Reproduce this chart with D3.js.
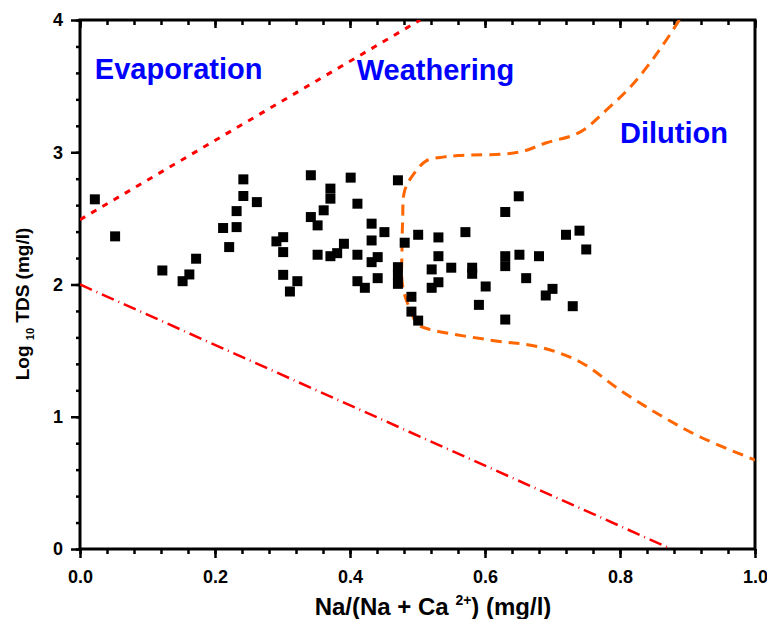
<!DOCTYPE html>
<html>
<head>
<meta charset="utf-8">
<script src="https://cdn.jsdelivr.net/npm/d3@7"></script>
<style>
  body { margin: 0; background: #fff; }
  svg { display: block; font-family: "Liberation Sans", Arial, sans-serif; font-weight: bold; }
</style>
</head>
<body>
<div id="chart"></div>
<script>
// Gibbs plot - Na/(Na+Ca) vs log10 TDS

const sampleX = [
  0.022, 0.052, 0.122, 0.152, 0.162, 0.172, 0.212, 0.221, 0.232, 0.232,
  0.242, 0.242, 0.262, 0.291, 0.301, 0.301, 0.301, 0.322, 0.311, 0.342,
  0.342, 0.352, 0.352, 0.361, 0.371, 0.371, 0.371, 0.381, 0.391, 0.401,
  0.411, 0.411, 0.411, 0.422, 0.432, 0.432, 0.432, 0.441, 0.441, 0.451,
  0.471, 0.471, 0.471, 0.471, 0.481, 0.491, 0.491, 0.501, 0.501, 0.531,
  0.531, 0.521, 0.550, 0.531, 0.521, 0.571, 0.581, 0.581, 0.601, 0.591,
  0.630, 0.630, 0.630, 0.630, 0.650, 0.651, 0.661, 0.680, 0.700, 0.690,
  0.730, 0.720, 0.740, 0.750
];
const sampleTDS = [
  2.644, 2.364, 2.106, 2.025, 2.076, 2.195, 2.427, 2.283, 2.434, 2.555,
  2.795, 2.669, 2.623, 2.326, 2.358, 2.245, 2.073, 2.025, 1.947, 2.826,
  2.510, 2.447, 2.225, 2.561, 2.725, 2.649, 2.214, 2.237, 2.308, 2.808,
  2.611, 2.225, 2.025, 1.975, 2.460, 2.333, 2.169, 2.207, 2.048, 2.396,
  2.788, 2.131, 2.068, 2.005, 2.316, 1.907, 1.795, 1.727, 2.376, 2.356,
  2.214, 2.114, 2.127, 2.017, 1.975, 2.396, 2.127, 2.081, 1.985, 1.846,
  2.548, 2.214, 2.139, 1.735, 2.667, 2.225, 2.048, 2.214, 1.967, 1.917,
  1.836, 2.376, 2.407, 2.265
];

// boundary lines [x, y]
const evapLine = [[0, 2.49], [0.504, 4]];
const lowerLine = [[0, 2], [0.876, 0]];
const dilutionCurve = [
  [0.888, 4.0], [0.858, 3.77], [0.82, 3.52], [0.78, 3.32], [0.74, 3.15],
  [0.69, 3.07], [0.65, 3.0], [0.56, 2.975], [0.54, 2.965], [0.513, 2.935],
  [0.495, 2.84], [0.481, 2.71], [0.478, 2.48], [0.477, 2.25], [0.477, 2.03],
  [0.481, 1.92], [0.49, 1.80], [0.5, 1.70], [0.515, 1.665], [0.607, 1.58],
  [0.681, 1.527], [0.741, 1.414], [0.8, 1.202], [0.859, 1.013], [0.919, 0.847],
  [1.0, 0.673]
];

const regionNames = ["Evaporation", "Weathering", "Dilution"];
const regionX = [0.022, 0.41, 0.80];
const regionY = [3.554, 3.546, 3.07];

const xMajor = [0, 0.2, 0.4, 0.6, 0.8, 1.0];
const xMinor = d3.range(0, 1.0001, 0.04);
const yMajor = [0, 1, 2, 3, 4];
const yMinor = d3.range(0, 4.0001, 0.2);

const width = 767;
const height = 619;
const margin = { top: 20, left: 80, bottom: 70, right: 12 };

const svg = d3.select("#chart").append("svg")
  .attr("width", width)
  .attr("height", height);

svg.append("rect").attr("width", width).attr("height", height).attr("fill", "#fff");

const x = d3.scaleLinear().domain([0, 1]).range([margin.left, width - margin.right]);
const y = d3.scaleLinear().domain([0, 4]).range([height - margin.bottom, margin.top]);

svg.append("clipPath").attr("id", "plotclip")
  .append("rect")
  .attr("x", x(0)).attr("y", y(4))
  .attr("width", x(1) - x(0)).attr("height", y(0) - y(4));

// axes
function styleAxis(g, fontSize) {
  g.select(".domain").remove();
  g.selectAll(".tick line").attr("stroke", "#000").attr("stroke-width", 2.5);
  g.selectAll(".tick text")
    .attr("fill", "#000")
    .style("font-size", fontSize + "px")
    .style("font-weight", "bold")
    .style("font-family", "'Liberation Sans', Arial, sans-serif");
}

svg.append("g").attr("transform", `translate(0,${y(0)})`)
  .call(d3.axisBottom(x).tickValues(xMinor).tickSize(5).tickFormat(""))
  .call(g => styleAxis(g, 0));
svg.append("g").attr("transform", `translate(0,${y(0)})`)
  .call(d3.axisBottom(x).tickValues(xMajor).tickSize(9).tickPadding(12).tickFormat(d3.format(".1f")))
  .call(g => styleAxis(g, 18));

svg.append("g").attr("transform", `translate(0,${y(4)})`)
  .call(d3.axisTop(x).tickValues(xMinor).tickSize(-5).tickFormat(""))
  .call(g => styleAxis(g, 0));
svg.append("g").attr("transform", `translate(0,${y(4)})`)
  .call(d3.axisTop(x).tickValues(xMajor).tickSize(-8).tickFormat(""))
  .call(g => styleAxis(g, 0));

svg.append("g").attr("transform", `translate(${x(0)},0)`)
  .call(d3.axisLeft(y).tickValues(yMinor).tickSize(4).tickFormat(""))
  .call(g => styleAxis(g, 0));
svg.append("g").attr("transform", `translate(${x(0)},0)`)
  .call(d3.axisLeft(y).tickValues(yMajor).tickSize(9).tickPadding(8).tickFormat(d3.format("d")))
  .call(g => styleAxis(g, 18));

// frame
svg.append("rect")
  .attr("x", x(0)).attr("y", y(4))
  .attr("width", x(1) - x(0)).attr("height", y(0) - y(4))
  .attr("fill", "none").attr("stroke", "#000").attr("stroke-width", 3);

const plot = svg.append("g").attr("clip-path", "url(#plotclip)");

const line = d3.line().x(d => x(d[0])).y(d => y(d[1]));

plot.append("path").datum(evapLine)
  .attr("d", line)
  .attr("fill", "none").attr("stroke", "#ff0000")
  .attr("stroke-width", 3).attr("stroke-dasharray", "6,7");

plot.append("path").datum(lowerLine)
  .attr("d", line)
  .attr("fill", "none").attr("stroke", "#ff0000")
  .attr("stroke-width", 2.5).attr("stroke-dasharray", "13,5,1,5");

plot.append("path").datum(dilutionCurve)
  .attr("d", line.curve(d3.curveCatmullRom.alpha(0.5)))
  .attr("fill", "none").attr("stroke", "#ff6600")
  .attr("stroke-width", 3).attr("stroke-dasharray", "11,7");

// samples
const sq = d3.symbol().type(d3.symbolSquare).size(100);
plot.selectAll("path.pt")
  .data(sampleX.map((v, i) => [v, sampleTDS[i]]))
  .join("path")
  .attr("class", "pt")
  .attr("d", sq)
  .attr("transform", d => `translate(${x(d[0])},${y(d[1])})`)
  .attr("fill", "#000");

// region labels
svg.selectAll("text.region")
  .data(regionNames)
  .join("text")
  .attr("class", "region")
  .attr("x", (d, i) => x(regionX[i]))
  .attr("y", (d, i) => y(regionY[i]))
  .attr("fill", "#0000ff")
  .style("font-size", "29px")
  .text(d => d);

// axis titles
const xt = svg.append("text")
  .attr("x", 433).attr("y", 615)
  .attr("text-anchor", "middle")
  .style("font-size", "24px");
xt.append("tspan").text("Na/(Na + Ca ");
xt.append("tspan").attr("dy", -10).style("font-size", "14px").text("2+");
xt.append("tspan").attr("dy", 10).text(") (mg/l)");

const yt = svg.append("text")
  .attr("transform", "translate(29,304) rotate(-90)")
  .attr("text-anchor", "middle")
  .style("font-size", "19px");
yt.append("tspan").text("Log ");
yt.append("tspan").attr("dy", 5).style("font-size", "11px").text("10");
yt.append("tspan").attr("dy", -5).text(" TDS (mg/l)");
</script>
</body>
</html>
